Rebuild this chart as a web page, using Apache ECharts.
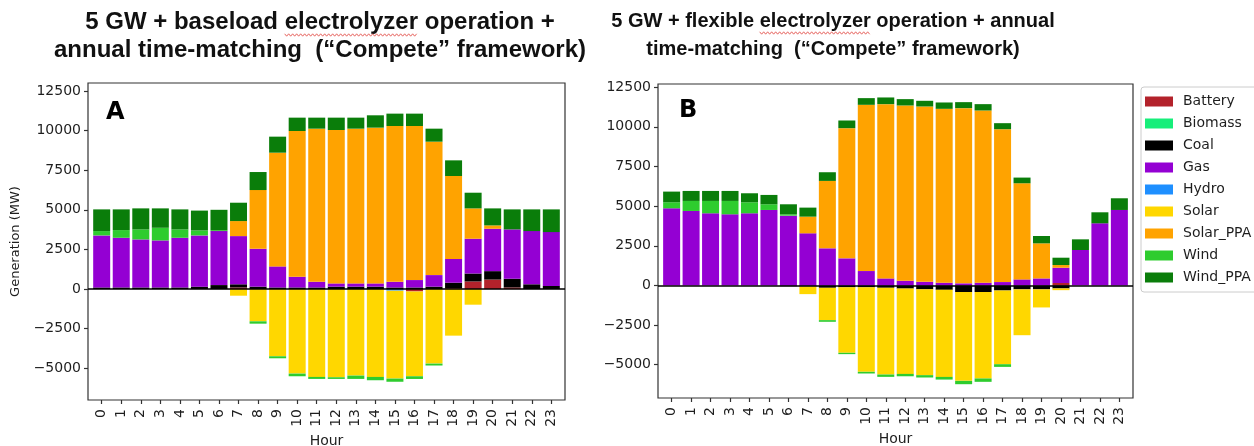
<!DOCTYPE html>
<html>
<head>
<meta charset="utf-8">
<script src="https://cdn.jsdelivr.net/npm/echarts/dist/echarts.min.js"></script>
<style>
  html, body { margin: 0; padding: 0; background: #fff; }
  #chart { width: 1254px; height: 446px; }
</style>
</head>
<body>
<div id="chart"></div>
<script>
// Hour of day (categories)
const hours = ['0','1','2','3','4','5','6','7','8','9','10','11','12','13','14','15','16','17','18','19','20','21','22','23'];
const yTicks = [-5000,-2500,0,2500,5000,7500,10000,12500];
const techNames = ['Battery','Biomass','Coal','Gas','Hydro','Solar','Solar_PPA','Wind','Wind_PPA'];
const techColors = ['#b3222b','#17ee7a','#000000','#9400d3','#1e8fff','#ffd700','#ffa300','#2ecc2e','#0a7d0a'];

// Panel A: baseload electrolyzer operation (MW)
const batteryA  = [0,0,0,0,0,0,0,100,0,0,0,0,0,0,0,0,-150,0,50,480,600,100,0,0];
const biomassA  = [0,0,0,0,0,0,0,0,0,0,0,0,0,0,0,0,0,0,0,0,0,0,0,0];
const coalA     = [100,100,100,100,100,150,250,200,150,100,100,100,150,150,150,100,100,150,350,500,530,550,300,200];
const gasA      = [3284,3136,3031,2968,3136,3234,3408,3041,2390,1330,677,362,207,207,207,360,467,730,1500,2194,2675,3113,3358,3394];
const hydroA    = [0,0,0,0,0,0,0,0,0,0,0,0,0,0,0,-100,0,0,0,0,0,0,0,0];
const solarA    = [0,0,0,0,0,0,0,-420,-2037,-4242,-5334,-5544,-5565,-5460,-5544,-5549,-5352,-4704,-2940,-987,0,0,0,0];
const solarPpaA = [0,0,0,0,0,0,0,948,3706,7174,9195,9657,9678,9762,9826,9828,9721,8418,5231,1915,211,0,0,0];
const windA     = [274,484,629,798,524,316,50,0,-147,-126,-168,-126,-105,-210,-210,-200,-170,-120,0,0,0,0,0,0];
const windPpaA  = [1368,1306,1330,1224,1266,1250,1292,1158,1137,1011,842,695,779,695,779,779,779,821,989,989,1073,1263,1368,1432];

// Panel B: flexible electrolyzer operation (MW)
const batteryB  = [0,0,0,0,0,0,0,0,0,0,0,0,0,0,0,0,0,0,0,0,150,0,0,0];
const biomassB  = [0,0,0,0,0,0,0,0,0,0,0,0,0,0,0,0,0,0,0,0,0,0,0,0];
const coalB     = [0,0,0,0,0,0,-50,-60,-150,-120,-120,-150,-200,-250,-280,-420,-420,-320,-250,-250,-190,0,0,0];
const gasB      = [4863,4694,4547,4484,4547,4757,4399,3284,2337,1705,905,442,295,230,170,130,170,210,380,440,966,2231,3915,4757];
const hydroB    = [0,0,0,0,0,0,0,0,0,0,0,0,0,0,0,0,0,0,0,0,0,0,0,0];
const solarB    = [0,0,0,0,0,0,0,-490,-2040,-4130,-5330,-5470,-5380,-5410,-5490,-5600,-5450,-4650,-2890,-1140,-110,0,0,0];
const solarPpaB = [0,0,0,0,0,0,0,1052,4252,8210,10483,10988,11051,11053,10965,11048,10860,9641,6061,2212,168,0,0,0];
const windB     = [378,632,779,842,694,358,85,0,-105,-84,-105,-147,-150,-147,-168,-210,-210,-168,0,0,0,0,0,0];
const windPpaB  = [674,631,631,631,569,590,631,569,547,484,421,421,400,358,400,378,400,379,358,463,463,674,695,737];

// Headings
const headingA = ['5 GW + baseload electrolyzer operation +', 'annual time-matching  (\u201cCompete\u201d framework)'];
const headingB = ['5 GW + flexible electrolyzer operation + annual', 'time-matching  (\u201cCompete\u201d framework)'];

// Each panel: an outer frame spanning x = -0.7 .. 23.7 hours and an inner
// plotting area holding the 24 hour bands.
const X_PAD = 0.2;
const panels = [
  { stack: 'A', frame: { left: 88, top: 83, width: 477, height: 317 }, yMin: -7000, yMax: 13000, yName: 'Generation (MW)',
    values: [batteryA, biomassA, coalA, gasA, hydroA, solarA, solarPpaA, windA, windPpaA] },
  { stack: 'B', frame: { left: 658, top: 84, width: 475, height: 314 }, yMin: -7100, yMax: 12700, yName: '',
    values: [batteryB, biomassB, coalB, gasB, hydroB, solarB, solarPpaB, windB, windPpaB] }
];

const tickFont = { fontFamily: 'DejaVu Sans', fontSize: 14, color: '#1e1e1e' };
const minus = v => (v < 0 ? '\u2212' + (-v) : String(v));

const grids = [], xAxes = [], yAxes = [], series = [];
panels.forEach((p, pi) => {
  const f = p.frame;
  const band = f.width / (hours.length + 2 * X_PAD);
  const inner = { left: f.left + X_PAD * band, top: f.top, width: band * hours.length, height: f.height };
  const gFrame = grids.length, gData = grids.length + 1;

  grids.push(Object.assign({ show: true, borderColor: '#333', borderWidth: 1.2, backgroundColor: '#fff', outerBoundsMode: 'none', containLabel: false }, f));
  grids.push(Object.assign({ show: false, outerBoundsMode: 'none', containLabel: false }, inner));

  // frame axes (hidden) carry the zero reference line across the full frame
  xAxes.push({ type: 'value', gridIndex: gFrame, min: 0, max: 1, show: false });
  yAxes.push({ type: 'value', gridIndex: gFrame, min: p.yMin, max: p.yMax, show: false });

  xAxes.push({
    type: 'category', gridIndex: gData, data: hours, boundaryGap: true,
    axisLine: { show: false, onZero: false },
    axisTick: { show: true, length: 4, alignWithLabel: true, interval: 0, lineStyle: { color: '#333', width: 1.2 } },
    axisLabel: Object.assign({ interval: 0, rotate: 90, margin: 9 }, tickFont),
    splitLine: { show: false },
    name: 'Hour', nameLocation: 'middle', nameGap: 33,
    nameTextStyle: tickFont
  });
  yAxes.push({
    type: 'value', gridIndex: gData, min: p.yMin, max: p.yMax, offset: X_PAD * band,
    axisLine: { show: false, onZero: false },
    axisTick: { show: true, length: 4, customValues: yTicks, lineStyle: { color: '#333', width: 1.2 } },
    axisLabel: Object.assign({ customValues: yTicks, margin: 7, formatter: minus }, tickFont),
    splitLine: { show: false },
    name: p.yName, nameLocation: 'middle', nameGap: 66,
    nameTextStyle: { fontFamily: 'DejaVu Sans', fontSize: 13, color: '#1e1e1e' }
  });

  const xi = xAxes.length - 1, yi = yAxes.length - 1;
  techNames.forEach((name, ti) => {
    series.push({
      name, type: 'bar', stack: p.stack, xAxisIndex: xi, yAxisIndex: yi,
      barWidth: 17, itemStyle: { color: techColors[ti] },
      data: p.values[ti]
    });
  });

  series.push({
    type: 'line', xAxisIndex: xi - 1, yAxisIndex: yi - 1, z: 5,
    data: [[0, 0], [1, 0]], showSymbol: false, lineStyle: { opacity: 0 }, silent: true,
    markLine: {
      silent: true, symbol: 'none', label: { show: false },
      lineStyle: { color: '#000', width: 1.6, type: 'solid' },
      data: [{ yAxis: 0 }]
    }
  });
});

// Heading lines are centred on a given x; the red wavy spell-check underline
// sits beneath "electrolyzer" in the first line of each heading.
const meas = document.createElement('canvas').getContext('2d');
function textWidth(str, size) {
  meas.font = 'bold ' + size + 'px "Liberation Sans"';
  return meas.measureText(str).width;
}
function headingTitles(lines, cx, size, tops) {
  return lines.map((t, i) => ({
    text: t, left: cx - textWidth(t, size) / 2, top: tops[i], padding: 0,
    textStyle: { fontFamily: 'Liberation Sans', fontSize: size, fontWeight: 'bold', color: '#111' }
  }));
}
function wavyUnder(line, cx, size, prefix, word, y) {
  const x0 = cx - textWidth(line, size) / 2 + textWidth(prefix, size);
  const x1 = x0 + textWidth(word, size);
  const pts = [];
  for (let x = x0, k = 0; x <= x1; x += 2, k++) pts.push([x, y + (k % 2 ? 1.2 : -1.2)]);
  return { type: 'polyline', shape: { points: pts }, style: { stroke: '#e0403a', lineWidth: 0.8, fill: null }, z: 100 };
}

const A_CX = 320, A_SIZE = 24;
const B_CX = 833, B_SIZE = 20;
const letterStyle = { fontFamily: 'DejaVu Sans', fontSize: 24, fontWeight: 'bold', color: '#000' };

const option = {
  animation: false,
  backgroundColor: '#fff',
  title: [
    ...headingTitles(headingA, A_CX, A_SIZE, [10, 38]),
    ...headingTitles(headingB, B_CX, B_SIZE, [11, 39]),
    { text: 'A', left: 106, top: 101, textStyle: letterStyle, padding: 0 },
    { text: 'B', left: 679, top: 99, textStyle: letterStyle, padding: 0 }
  ],
  legend: {
    data: techNames.map(n => ({ name: n, icon: 'rect' })),
    orient: 'vertical', left: 1141, top: 87,
    itemWidth: 28, itemHeight: 10, itemGap: 7,
    padding: [7, 8, 7, 4],
    borderColor: '#cccccc', borderWidth: 1, borderRadius: 3,
    textStyle: { fontFamily: 'DejaVu Sans', fontSize: 14, color: '#1e1e1e', lineHeight: 15, padding: [0, 0, 0, 5] },
    selectedMode: false
  },
  grid: grids, xAxis: xAxes, yAxis: yAxes, series,
  graphic: [
    wavyUnder(headingA[0], A_CX, A_SIZE, '5 GW + baseload ', 'electrolyzer', 35),
    wavyUnder(headingB[0], B_CX, B_SIZE, '5 GW + flexible ', 'electrolyzer', 33)
  ]
};

const chart = echarts.init(document.getElementById('chart'), null, { renderer: 'canvas' });
chart.setOption(option);
</script>
</body>
</html>
